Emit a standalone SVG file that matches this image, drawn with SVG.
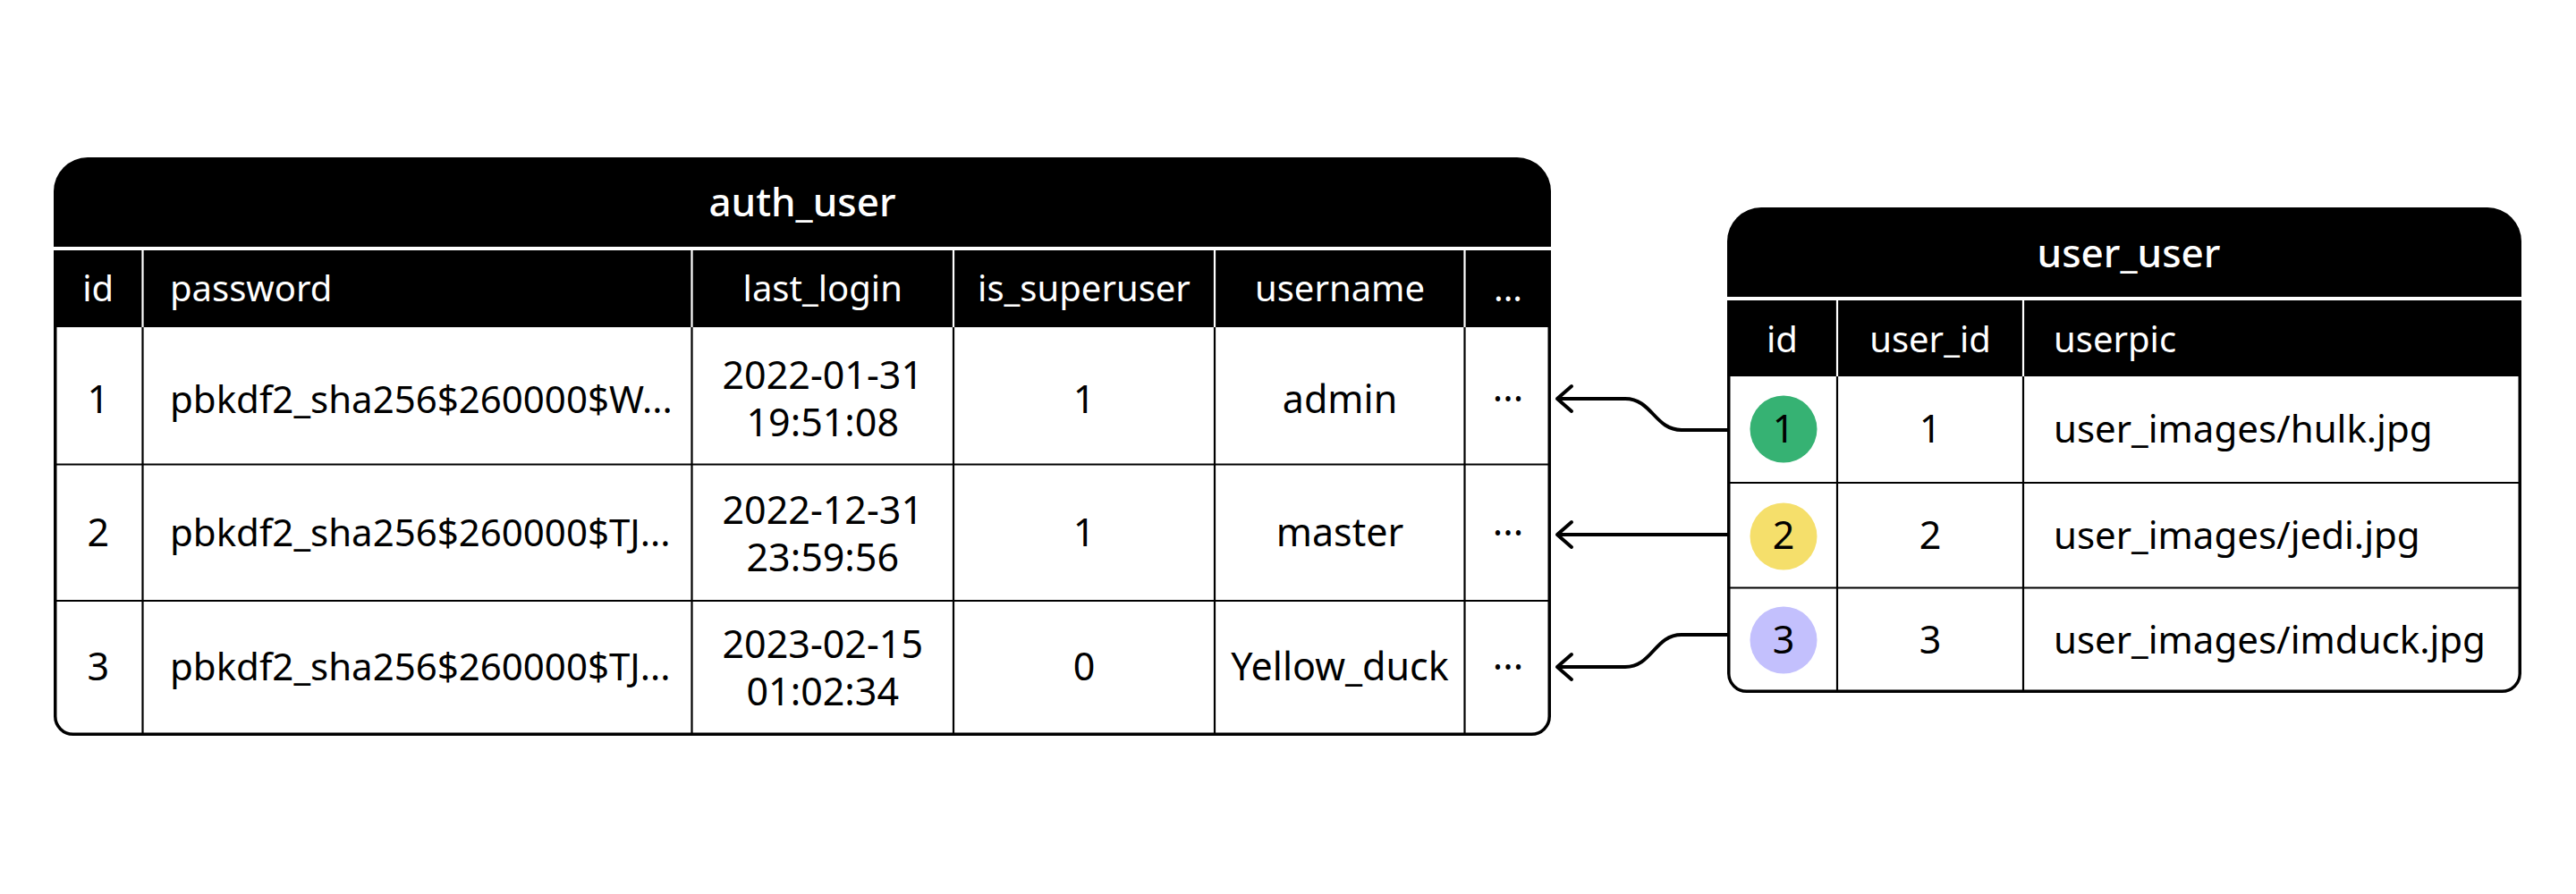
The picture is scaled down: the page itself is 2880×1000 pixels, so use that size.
<svg xmlns="http://www.w3.org/2000/svg" width="2880" height="1000" viewBox="0 0 2880 1000">
<defs>
<style>
text { font-family: 'Noto Sans', 'Open Sans', sans-serif; }
.ttl { fill: #fff; font-size: 44px; font-weight: 500; text-anchor: middle; }
.hd { fill: #fff; font-size: 40px; }
.bd { fill: #000; font-size: 43px; }
.pw { font-size: 42px; }
.c { text-anchor: middle; }
.band { fill: #000; }
.body { fill: #fff; stroke: #000; stroke-width: 3.5; }
.grid { stroke: #000; stroke-width: 2.2; fill: none; }
.wdiv { stroke: #fff; stroke-width: 2.2; }
.conn { fill: none; stroke: #000; stroke-width: 4; marker-end: url(#arr); }
</style>
<marker id="arr" markerUnits="userSpaceOnUse" markerWidth="40" markerHeight="40" viewBox="-20 -20 40 40" refX="0" refY="0" orient="auto" overflow="visible">
<path d="M-16,-14 L0,0 L-16,14" fill="none" stroke="#000" stroke-width="4" stroke-linecap="round" stroke-linejoin="round"/>
</marker>
</defs>
<rect width="2880" height="1000" fill="#fff"/>

<g id="auth_user">
<path class="body" d="M61.75,360 V801.25 A20,20 0 0 0 81.75,821.25 H1712.25 A20,20 0 0 0 1732.25,801.25 V360"/>
<path class="grid" d="M159.5,366 V821 M773.5,366 V821 M1066,366 V821 M1358,366 V821 M1637.5,366 V821 M62,519.5 H1732 M62,672 H1732"/>
<path class="band" d="M60,276 V214 A38,38 0 0 1 98,176 H1696 A38,38 0 0 1 1734,214 V276 Z"/>
<rect class="band" x="60" y="280" width="1674" height="86"/>
<path class="wdiv" d="M159.5,280 V366 M773.5,280 V366 M1066,280 V366 M1358,280 V366 M1637.5,280 V366"/>
<text class="ttl" x="897" y="242">auth_user</text>
<text class="hd c" x="109.75" y="337">id</text>
<text class="hd" x="190" y="337">password</text>
<text class="hd c" x="919.75" y="337">last_login</text>
<text class="hd c" x="1212" y="337">is_superuser</text>
<text class="hd c" x="1498" y="337">username</text>
<text class="hd c" x="1686" y="337">...</text>

<text class="bd c" x="109.75" y="462">1</text>
<text class="bd pw" x="190" y="462">pbkdf2_sha256$260000$W...</text>
<text class="bd c" x="919.75" y="435"><tspan x="919.75" y="435">2022-01-31</tspan><tspan x="919.75" y="488">19:51:08</tspan></text>
<text class="bd c" x="1212" y="462">1</text>
<text class="bd c" x="1498" y="462">admin</text>
<text class="bd c" x="1686" y="449">...</text>

<text class="bd c" x="109.75" y="611">2</text>
<text class="bd pw" x="190" y="611">pbkdf2_sha256$260000$TJ...</text>
<text class="bd c" x="919.75" y="586"><tspan x="919.75" y="586">2022-12-31</tspan><tspan x="919.75" y="639">23:59:56</tspan></text>
<text class="bd c" x="1212" y="611">1</text>
<text class="bd c" x="1498" y="611">master</text>
<text class="bd c" x="1686" y="599">...</text>

<text class="bd c" x="109.75" y="761">3</text>
<text class="bd pw" x="190" y="761">pbkdf2_sha256$260000$TJ...</text>
<text class="bd c" x="919.75" y="736"><tspan x="919.75" y="736">2023-02-15</tspan><tspan x="919.75" y="789">01:02:34</tspan></text>
<text class="bd c" x="1212" y="761">0</text>
<text class="bd c" x="1498" y="761">Yellow_duck</text>
<text class="bd c" x="1686" y="749">...</text>
</g>

<g id="user_user">
<path class="body" d="M1932.75,415 V753.25 A20,20 0 0 0 1952.75,773.25 H2797.25 A20,20 0 0 0 2817.25,753.25 V415"/>
<path class="grid" d="M2054,421 V773 M2262,421 V773 M1933,540 H2817 M1933,657.5 H2817"/>
<path class="band" d="M1931,332 V270 A38,38 0 0 1 1969,232 H2781 A38,38 0 0 1 2819,270 V332 Z"/>
<rect class="band" x="1931" y="336" width="888" height="85"/>
<path class="wdiv" d="M2054,336 V421 M2262,336 V421"/>
<text class="ttl" x="2380" y="299">user_user</text>
<text class="hd c" x="1992.5" y="394">id</text>
<text class="hd c" x="2158" y="394">user_id</text>
<text class="hd" x="2296" y="394">userpic</text>

<circle cx="1994" cy="480" r="37.5" fill="#36B273"/>
<text class="bd c" x="1994" y="495">1</text>
<text class="bd c" x="2158" y="495">1</text>
<text class="bd pw" x="2296" y="495">user_images/hulk.jpg</text>

<circle cx="1994" cy="600" r="37.5" fill="#F5DF6B"/>
<text class="bd c" x="1994" y="614">2</text>
<text class="bd c" x="2158" y="614">2</text>
<text class="bd pw" x="2296" y="614">user_images/jedi.jpg</text>

<circle cx="1994" cy="716" r="37.5" fill="#C3C0FD"/>
<text class="bd c" x="1994" y="731">3</text>
<text class="bd c" x="2158" y="731">3</text>
<text class="bd pw" x="2296" y="731">user_images/imduck.jpg</text>
</g>

<g id="connectors">
<path class="conn" d="M1931,481 H1880 C1850,481 1847,446 1817,446 H1741"/>
<path class="conn" d="M1931,598 H1741"/>
<path class="conn" d="M1931,710 H1880 C1850,710 1847,746 1817,746 H1741"/>
</g>
</svg>
